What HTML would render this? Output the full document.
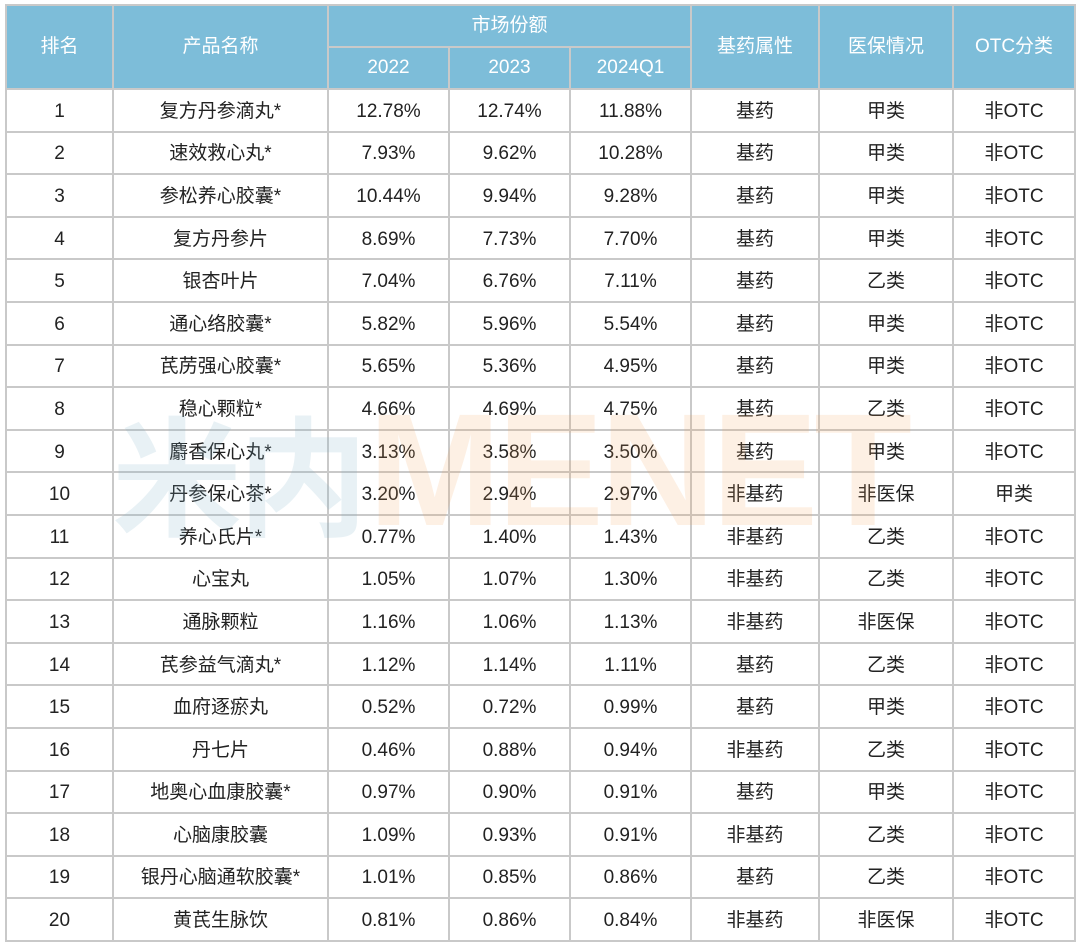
<!DOCTYPE html>
<html><head><meta charset="utf-8"><style>
body{margin:0;width:1080px;height:946px;background:#fff;position:relative;overflow:hidden;font-family:"Liberation Sans","Noto Sans CJK SC",sans-serif;}
table{position:absolute;left:5px;top:4px;border-collapse:collapse;table-layout:fixed;}
td,th{border:2px solid #c9c9c9;text-align:center;padding:0;font-size:19px;line-height:22px;color:#222;font-weight:normal;}
th{background:#7dbdd9;color:#fff;font-size:19px;height:40px;}
td{height:37.6px;padding-top:3px;}
.wm{position:absolute;top:392px;font-weight:bold;font-size:156px;line-height:156px;pointer-events:none;letter-spacing:-4px;}
</style></head><body>
<table>
<colgroup><col style="width:107px"><col style="width:215px"><col style="width:121px"><col style="width:121px"><col style="width:121px"><col style="width:128px"><col style="width:134px"><col style="width:122px"></colgroup>
<tr><th rowspan="2">排名</th><th rowspan="2">产品名称</th><th colspan="3">市场份额</th><th rowspan="2">基药属性</th><th rowspan="2">医保情况</th><th rowspan="2">OTC分类</th></tr>
<tr><th>2022</th><th>2023</th><th>2024Q1</th></tr>
<tr><td>1</td><td>复方丹参滴丸*</td><td>12.78%</td><td>12.74%</td><td>11.88%</td><td>基药</td><td>甲类</td><td>非OTC</td></tr>
<tr><td>2</td><td>速效救心丸*</td><td>7.93%</td><td>9.62%</td><td>10.28%</td><td>基药</td><td>甲类</td><td>非OTC</td></tr>
<tr><td>3</td><td>参松养心胶囊*</td><td>10.44%</td><td>9.94%</td><td>9.28%</td><td>基药</td><td>甲类</td><td>非OTC</td></tr>
<tr><td>4</td><td>复方丹参片</td><td>8.69%</td><td>7.73%</td><td>7.70%</td><td>基药</td><td>甲类</td><td>非OTC</td></tr>
<tr><td>5</td><td>银杏叶片</td><td>7.04%</td><td>6.76%</td><td>7.11%</td><td>基药</td><td>乙类</td><td>非OTC</td></tr>
<tr><td>6</td><td>通心络胶囊*</td><td>5.82%</td><td>5.96%</td><td>5.54%</td><td>基药</td><td>甲类</td><td>非OTC</td></tr>
<tr><td>7</td><td>芪苈强心胶囊*</td><td>5.65%</td><td>5.36%</td><td>4.95%</td><td>基药</td><td>甲类</td><td>非OTC</td></tr>
<tr><td>8</td><td>稳心颗粒*</td><td>4.66%</td><td>4.69%</td><td>4.75%</td><td>基药</td><td>乙类</td><td>非OTC</td></tr>
<tr><td>9</td><td>麝香保心丸*</td><td>3.13%</td><td>3.58%</td><td>3.50%</td><td>基药</td><td>甲类</td><td>非OTC</td></tr>
<tr><td>10</td><td>丹参保心茶*</td><td>3.20%</td><td>2.94%</td><td>2.97%</td><td>非基药</td><td>非医保</td><td>甲类</td></tr>
<tr><td>11</td><td>养心氏片*</td><td>0.77%</td><td>1.40%</td><td>1.43%</td><td>非基药</td><td>乙类</td><td>非OTC</td></tr>
<tr><td>12</td><td>心宝丸</td><td>1.05%</td><td>1.07%</td><td>1.30%</td><td>非基药</td><td>乙类</td><td>非OTC</td></tr>
<tr><td>13</td><td>通脉颗粒</td><td>1.16%</td><td>1.06%</td><td>1.13%</td><td>非基药</td><td>非医保</td><td>非OTC</td></tr>
<tr><td>14</td><td>芪参益气滴丸*</td><td>1.12%</td><td>1.14%</td><td>1.11%</td><td>基药</td><td>乙类</td><td>非OTC</td></tr>
<tr><td>15</td><td>血府逐瘀丸</td><td>0.52%</td><td>0.72%</td><td>0.99%</td><td>基药</td><td>甲类</td><td>非OTC</td></tr>
<tr><td>16</td><td>丹七片</td><td>0.46%</td><td>0.88%</td><td>0.94%</td><td>非基药</td><td>乙类</td><td>非OTC</td></tr>
<tr><td>17</td><td>地奥心血康胶囊*</td><td>0.97%</td><td>0.90%</td><td>0.91%</td><td>基药</td><td>甲类</td><td>非OTC</td></tr>
<tr><td>18</td><td>心脑康胶囊</td><td>1.09%</td><td>0.93%</td><td>0.91%</td><td>非基药</td><td>乙类</td><td>非OTC</td></tr>
<tr><td>19</td><td>银丹心脑通软胶囊*</td><td>1.01%</td><td>0.85%</td><td>0.86%</td><td>基药</td><td>乙类</td><td>非OTC</td></tr>
<tr><td>20</td><td>黄芪生脉饮</td><td>0.81%</td><td>0.86%</td><td>0.84%</td><td>非基药</td><td>非医保</td><td>非OTC</td></tr>
</table>
<div class="wm" style="left:112px;color:rgba(125,175,200,0.18);font-family:'Noto Sans CJK SC',sans-serif;font-size:130px;">米内</div>
<div class="wm" style="left:368px;color:rgba(245,160,90,0.16);font-size:160px;">MENET</div>
</body></html>
